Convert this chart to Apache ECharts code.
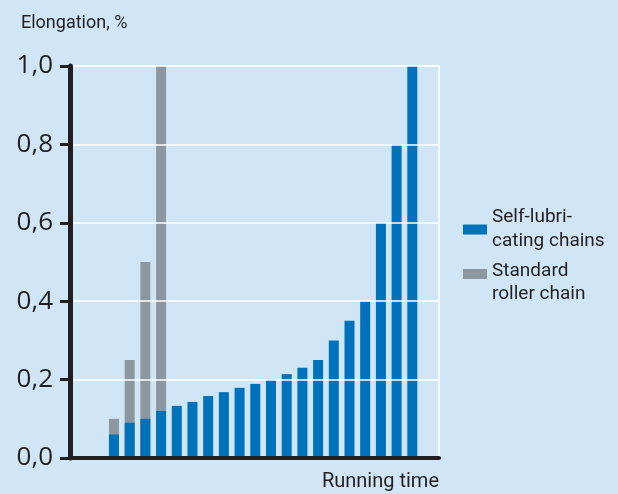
<!DOCTYPE html>
<html>
<head>
<meta charset="utf-8">
<script src="https://cdn.jsdelivr.net/npm/echarts@6/dist/echarts.min.js"></script>
<style>
html,body{margin:0;padding:0;background:#D0E6F6;}
#chart{width:618px;height:494px;}
</style>
</head>
<body>
<div id="chart"></div>
<script>
// Positions of the measurements along the running-time axis (1 = first measurement)
const periods = [1, 2, 3, 4, 5, 6, 7, 8, 9, 10, 11, 12, 13, 14, 15, 16, 17, 18, 19, 20];
// Elongation (%) of self-lubricating chains
const selfLubricating = [0.06, 0.09, 0.10, 0.12, 0.133, 0.143, 0.158, 0.168, 0.179, 0.189, 0.20, 0.214, 0.23, 0.25, 0.30, 0.35, 0.40, 0.60, 0.80, 1.0];
// Elongation (%) of standard roller chain (only first four measurements)
const standardRoller = [0.10, 0.25, 0.50, 1.0];
const yTicks = [0, 0.2, 0.4, 0.6, 0.8, 1.0];
const seriesNames = ['Self-lubricating chains', 'Standard roller chain'];
const legendLabels = {
  'Self-lubricating chains': '{t|Self-lubri-}\n{t|cating chains}',
  'Standard roller chain': '{s| }\n{t|Standard}\n{t|roller chain}'
};

const ink = '#231F20';
const font = 'Roboto, "Noto Sans", sans-serif';
const numFont = '"Open Sans", Roboto, sans-serif';

const legendBase = {
  orient: 'vertical',
  left: 463,
  itemWidth: 24, itemHeight: 10,
  itemGap: 0,
  padding: 0,
  icon: 'rect',
  formatter: n => legendLabels[n]
};

const chart = echarts.init(document.getElementById('chart'), null, { renderer: 'canvas' });

chart.setOption({
  backgroundColor: '#D0E6F6',
  animation: false,
  textStyle: { fontFamily: font },
  title: {
    text: 'Elongation, %',
    left: 16, top: 9,
    textStyle: { fontSize: 18, fontWeight: 'normal', color: ink, fontFamily: font }
  },
  legend: [
    Object.assign({}, legendBase, {
      data: [seriesNames[0]],
      top: 208,
      textStyle: {
        fontSize: 19, color: ink, fontFamily: font,
        rich: { t: { fontSize: 19, lineHeight: 24, color: ink, fontFamily: font } }
      }
    }),
    Object.assign({}, legendBase, {
      data: [seriesNames[1]],
      top: 249,
      textStyle: {
        fontSize: 19, color: ink, fontFamily: font,
        rich: {
          s: { fontSize: 4, lineHeight: 17 },
          t: { fontSize: 19, lineHeight: 23, color: ink, fontFamily: font }
        }
      }
    })
  ],
  grid: {
    left: 70, right: 179, top: 66, bottom: 36,
    show: true, borderColor: '#FFFFFF', borderWidth: 1.5, backgroundColor: 'transparent'
  },
  xAxis: {
    type: 'value',
    min: -1.8, max: 21.7,
    z: 10,
    name: 'Running time',
    nameLocation: 'end',
    nameGap: 0,
    nameTextStyle: { fontSize: 20, color: ink, align: 'right', verticalAlign: 'top', padding: [14, 0, 0, 0], fontFamily: font },
    axisLine: { show: true, onZero: true, lineStyle: { color: ink, width: 4 } },
    axisTick: { show: false },
    axisLabel: { show: false },
    splitLine: { show: false }
  },
  yAxis: {
    type: 'value',
    min: yTicks[0], max: yTicks[yTicks.length - 1], interval: 0.2,
    z: 10,
    axisLine: { show: true, onZero: false, lineStyle: { color: ink, width: 5 } },
    axisTick: { show: true, length: 10, lineStyle: { color: ink, width: 3 } },
    axisLabel: {
      margin: 17, fontSize: 26, color: ink, fontFamily: numFont,
      formatter: v => v.toFixed(1).replace('.', ',')
    },
    splitLine: { show: true, lineStyle: { color: '#FFFFFF', width: 1.5 } }
  },
  series: [
    {
      name: seriesNames[1],
      type: 'bar',
      barWidth: 10,
      barGap: '-100%',
      itemStyle: { color: '#8C979F' },
      data: standardRoller.map((v, i) => [periods[i], v])
    },
    {
      name: seriesNames[0],
      type: 'bar',
      barWidth: 10,
      barGap: '-100%',
      itemStyle: { color: '#0071BB' },
      data: selfLubricating.map((v, i) => [periods[i], v])
    }
  ]
});
</script>
</body>
</html>
